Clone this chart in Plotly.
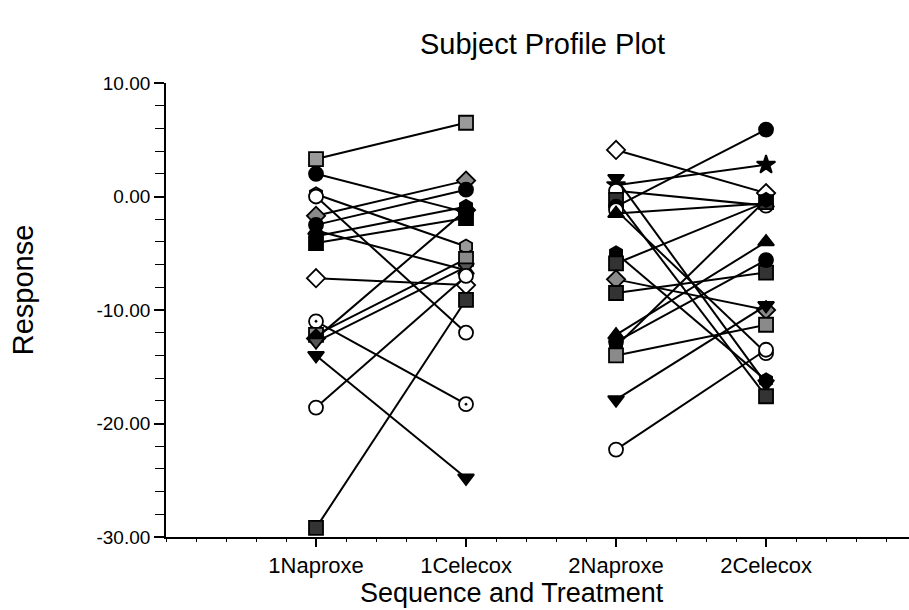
import plotly.graph_objects as go

# ---- data ----
categories = ["1Naproxe", "1Celecox", "2Naproxe", "2Celecox"]
y_ticks = [-30, -20, -10, 0, 10]
y_tick_labels = ["-30.00", "-20.00", "-10.00", "0.00", "10.00"]

seq1_naproxen = [3.3, 2.0, 0.2, 0.0, -1.7, -2.5, -3.0, -3.5, -4.1, -7.2, -11.0, -12.2, -12.5, -12.8, -14.0, -18.6, -29.2]
seq1_celecox = [6.5, -1.4, -4.4, -12.0, 1.4, 0.6, -6.5, -0.9, -1.9, -7.8, -18.3, -5.5, -1.2, -6.2, -24.8, -7.0, -9.1]

seq2_naproxen = [4.1, 1.6, 1.0, 0.5, -0.3, -0.9, -1.2, -1.5, -5.0, -5.9, -7.3, -8.5, -12.2, -12.8, -13.2, -14.0, -17.9, -22.3]
seq2_celecox = [0.3, -16.5, 2.8, -0.8, -17.6, 5.9, -13.8, -0.6, -16.2, -0.5, -10.0, -6.7, -4.0, -5.6, -0.3, -11.3, -9.6, -13.5]

# ---- styles (marker per subject) ----
seq1_symbols = ["square", "circle", "hexagon", "circle", "diamond", "circle", "triangle-up", "hexagon", "square",
                "diamond", "circle-dot", "square", "diamond", "triangle-down", "triangle-down", "circle", "square"]
seq1_fills = ["#9a9a9a", "black", "#9a9a9a", "white", "#8a8a8a", "black", "black", "black", "black",
              "white", "white", "#8a8a8a", "black", "#555555", "black", "white", "#333333"]
seq2_symbols = ["diamond", "triangle-down", "star", "circle", "square", "circle", "circle", "triangle-up", "hexagon",
                "square", "diamond", "square", "triangle-up", "circle", "hexagon", "square", "triangle-down", "circle"]
seq2_fills = ["white", "black", "black", "white", "#333333", "black", "white", "black", "black",
              "#333333", "#8a8a8a", "#333333", "black", "black", "black", "#8a8a8a", "black", "white"]

fig = go.Figure()

def add_subjects(xpair, nap, cel, syms, fills):
    for a, b, s, f in zip(nap, cel, syms, fills):
        fig.add_trace(go.Scatter(
            x=xpair, y=[a, b], mode="lines+markers",
            line=dict(color="black", width=2),
            marker=dict(symbol=s, size=14, color=f, line=dict(color="black", width=1.8)),
            showlegend=False, hoverinfo="y"))

add_subjects([1, 2], seq1_naproxen, seq1_celecox, seq1_symbols, seq1_fills)
add_subjects([3, 4], seq2_naproxen, seq2_celecox, seq2_symbols, seq2_fills)

font_family = "Liberation Sans, Arial, sans-serif"

fig.update_layout(
    width=909, height=610,
    margin=dict(l=166, r=0, t=83, b=73),
    paper_bgcolor="white", plot_bgcolor="white",
    font=dict(family=font_family, color="black"),
    showlegend=False,
    xaxis=dict(
        range=[0, 4.953], tickmode="array", tickvals=[1, 2, 3, 4], ticktext=categories,
        showgrid=False, zeroline=False, showline=True, linecolor="black", linewidth=1.8,
        ticks="outside", ticklen=8, tickwidth=1.5, tickcolor="black",
        tickfont=dict(size=22), ticklabelstandoff=0,
        minor=dict(dtick=0.2, tick0=0, ticks="outside", ticklen=3, tickwidth=1, tickcolor="black", showgrid=False),
    ),
    yaxis=dict(
        range=[-30, 10], tickmode="array", tickvals=y_ticks, ticktext=y_tick_labels,
        showgrid=False, zeroline=False, showline=True, linecolor="black", linewidth=1.8,
        ticks="outside", ticklen=10, tickwidth=1.5, tickcolor="black",
        tickfont=dict(size=19), ticklabelstandoff=0,
        minor=dict(dtick=2, tick0=0, ticks="outside", ticklen=9, tickwidth=1.2, tickcolor="black", showgrid=False),
    ),
    annotations=[
        dict(text="Subject Profile Plot", xref="paper", yref="paper",
             x=(542 - 166) / 743, y=1, yshift=39, xanchor="center", yanchor="middle",
             showarrow=False, font=dict(size=29)),
        dict(text="Sequence and Treatment", xref="paper", yref="paper",
             x=(512 - 166) / 743, y=0, yshift=-56, xanchor="center", yanchor="middle",
             showarrow=False, font=dict(size=27)),
        dict(text="Response", xref="paper", yref="paper",
             x=0, xshift=-143, y=(536.7 - 290) / 454, xanchor="center", yanchor="middle",
             textangle=-90, showarrow=False, font=dict(size=29)),
    ],
)

fig.write_html("out.html")
